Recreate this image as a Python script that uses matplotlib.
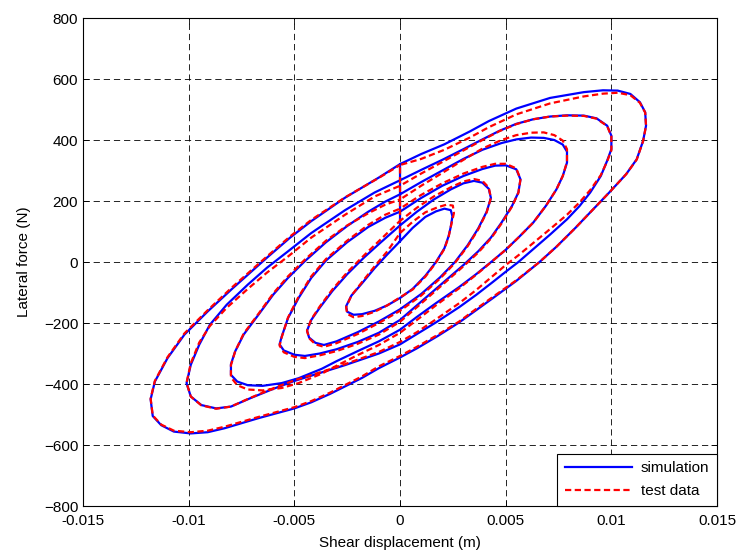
import numpy as np
import matplotlib
matplotlib.use("Agg")
import matplotlib.pyplot as plt
from matplotlib.ticker import FuncFormatter

# loops: displacement (m), force (N)
# every loop starts and ends on its upper branch at x = 0
sim1_x = [0, 0.0006, 0.0012, 0.0017, 0.0021, 0.0024, 0.00248, 0.0024, 0.0023, 0.0021, 0.0017, 0.0012, 0.0006, 0, -0.0006, -0.0012, -0.0018, -0.0022, -0.0025, -0.00255, -0.0023, -0.0018, -0.0012, -0.0006, 0]
sim1_f = [68, 112, 148, 166, 175, 170, 150, 115, 85, 45, 0, -45, -88, -118, -142, -160, -171, -173, -163, -145, -110, -70, -20, 25, 68]
sim2_x = [0, 0.0008, 0.0016, 0.0024, 0.0030, 0.0035, 0.0039, 0.0042, 0.0043, 0.0041, 0.0037, 0.0032, 0.0026, 0.0019, 0.0010, 0, -0.0010, -0.0020, -0.0030, -0.0036, -0.0040, -0.0043, -0.0044, -0.0042, -0.0038, -0.0032, -0.0025, -0.0017, -0.0009, 0]
sim2_f = [120, 165, 205, 238, 258, 266, 260, 240, 210, 165, 110, 55, 0, -50, -105, -155, -195, -230, -260, -272, -265, -248, -225, -190, -150, -95, -40, 15, 65, 120]
sim3_x = [0, 0.0010, 0.0020, 0.0030, 0.0039, 0.0045, 0.0050, 0.0055, 0.0057, 0.0056, 0.0053, 0.0048, 0.0043, 0.0037, 0.0030, 0.0020, 0.0010, 0, -0.0010, -0.0020, -0.0030, -0.0038, -0.0045, -0.0050, -0.0055, -0.0057, -0.0056, -0.0053, -0.0048, -0.0042, -0.0035, -0.0025, -0.0015, -0.0007, 0]
sim3_f = [165, 210, 250, 282, 305, 316, 317, 304, 271, 228, 184, 129, 80, 35, -10, -70, -130, -190, -232, -262, -286, -300, -308, -304, -290, -270, -245, -184, -118, -52, 5, 65, 115, 145, 165]
sim4_x = [0, 0.0010, 0.0020, 0.0030, 0.0039, 0.0048, 0.0055, 0.0062, 0.0068, 0.0073, 0.0077, 0.0079, 0.0079, 0.0077, 0.0074, 0.0069, 0.0063, 0.0056, 0.0050, 0.0044, 0.0036, 0.0028, 0.0017, 0.0008, 0, -0.0010, -0.0020, -0.0030, -0.0037, -0.0048, -0.0056, -0.0065, -0.0072, -0.0077, -0.0080, -0.0080, -0.0078, -0.0074, -0.0067, -0.0060, -0.0053, -0.0045, -0.0035, -0.0025, -0.0015, -0.0007, 0]
sim4_f = [222, 262, 300, 338, 368, 390, 402, 408, 407, 400, 385, 362, 326, 282, 238, 184, 129, 80, 40, 5, -40, -82, -135, -180, -222, -260, -292, -325, -350, -381, -397, -406, -404, -392, -370, -335, -293, -238, -173, -107, -52, 3, 65, 118, 165, 198, 222]
sim5_x = [0, 0.0010, 0.0020, 0.0030, 0.0039, 0.0047, 0.0055, 0.0063, 0.0071, 0.0079, 0.0087, 0.0093, 0.0098, 0.0100, 0.0100, 0.0098, 0.0095, 0.0090, 0.0085, 0.0079, 0.0071, 0.0063, 0.0056, 0.0050, 0.0044, 0.0036, 0.0028, 0.0017, 0.0008, 0, -0.0010, -0.0026, -0.0037, -0.0050, -0.0060, -0.0071, -0.0080, -0.0087, -0.0094, -0.0099, -0.0101, -0.0099, -0.0095, -0.0090, -0.0082, -0.0072, -0.0063, -0.0053, -0.0042, -0.0026, -0.0012, 0]
sim5_f = [268, 302, 335, 370, 402, 430, 453, 468, 477, 481, 480, 471, 447, 414, 370, 332, 282, 228, 184, 140, 90, 42, 0, -32, -65, -108, -148, -198, -236, -270, -300, -338, -362, -390, -416, -447, -474, -480, -469, -441, -397, -337, -271, -206, -140, -74, -19, 35, 95, 170, 228, 268]
sim6_x = [0, 0.0010, 0.0021, 0.0033, 0.0042, 0.0055, 0.0071, 0.0087, 0.0096, 0.0103, 0.0109, 0.01135, 0.0116, 0.01164, 0.0115, 0.0112, 0.0107, 0.0099, 0.0091, 0.0083, 0.0074, 0.0066, 0.0055, 0.0044, 0.0036, 0.0028, 0.0018, 0.0008, 0, -0.0010, -0.0018, -0.0033, -0.0042, -0.0050, -0.0067, -0.0083, -0.0091, -0.0099, -0.0107, -0.0113, -0.0117, -0.0118, -0.0116, -0.0110, -0.0102, -0.0091, -0.0079, -0.0063, -0.0052, -0.0042, -0.0026, -0.0010, 0]
sim6_f = [321, 354, 386, 428, 462, 503, 538, 557, 563, 562, 551, 524, 491, 447, 397, 337, 288, 228, 170, 112, 50, 0, -62, -118, -158, -198, -242, -283, -313, -348, -380, -432, -460, -480, -512, -545, -558, -562, -556, -535, -505, -450, -392, -315, -238, -162, -85, 14, 80, 134, 211, 277, 321]

test1_x = [0, 0.0006, 0.0012, 0.0018, 0.0022, 0.0025, 0.00255, 0.0024, 0.0023, 0.0021, 0.0017, 0.0012, 0.0006, 0, -0.0006, -0.0012, -0.0018, -0.0022, -0.0025, -0.00255, -0.0023, -0.0018, -0.0012, -0.0006, 0]
test1_f = [95, 132, 163, 180, 188, 185, 160, 115, 83, 43, -2, -48, -90, -116, -142, -163, -177, -181, -170, -148, -110, -66, -14, 35, 95]
test2_x = sim2_x
test2_f = [135, 178, 215, 245, 264, 272, 266, 244, 210, 163, 107, 52, -3, -54, -110, -160, -200, -236, -266, -278, -270, -250, -225, -188, -146, -90, -34, 22, 75, 135]
test3_x = sim3_x
test3_f = [175, 220, 258, 290, 312, 322, 322, 307, 272, 227, 182, 126, 77, 31, -14, -75, -136, -196, -238, -268, -292, -306, -315, -311, -296, -274, -247, -182, -114, -47, 10, 70, 122, 155, 175]
test4_x = sim4_x
test4_f = [205, 250, 292, 335, 372, 400, 416, 424, 425, 416, 398, 370, 328, 282, 238, 184, 129, 80, 40, 5, -42, -86, -142, -190, -232, -272, -305, -340, -366, -397, -413, -421, -418, -404, -378, -338, -293, -235, -170, -103, -47, 8, 70, 120, 160, 188, 205]
test5_x = sim5_x
test5_f = [250, 290, 328, 366, 400, 429, 452, 468, 477, 480, 479, 470, 446, 412, 366, 330, 285, 236, 196, 155, 108, 62, 22, -10, -45, -92, -135, -188, -230, -262, -295, -335, -360, -388, -414, -446, -474, -481, -470, -441, -396, -332, -264, -210, -150, -88, -35, 18, 80, 155, 215, 250]
test6_x = sim6_x
test6_f = [318, 338, 368, 408, 442, 484, 520, 543, 552, 555, 547, 522, 490, 446, 396, 336, 288, 228, 170, 112, 50, 0, -60, -114, -154, -195, -238, -278, -308, -342, -375, -428, -456, -476, -508, -540, -553, -558, -553, -533, -503, -447, -390, -312, -234, -158, -80, 18, 84, 138, 212, 276, 318]

sim_x = [sim1_x, sim2_x, sim3_x, sim4_x, sim5_x, sim6_x]
sim_f = [sim1_f, sim2_f, sim3_f, sim4_f, sim5_f, sim6_f]
test_x = [test1_x, test2_x, test3_x, test4_x, test5_x, test6_x]
test_f = [test1_f, test2_f, test3_f, test4_f, test5_f, test6_f]

plt.rcParams['font.family'] = ['Liberation Sans', 'DejaVu Sans']
plt.rcParams['font.size'] = 11
plt.rcParams['lines.scale_dashes'] = False

# loops joined one after another, like one recorded signal
xs = np.concatenate([np.asarray(a) for a in sim_x])
fs = np.concatenate([np.asarray(a) for a in sim_f])
xt = np.concatenate([np.asarray(a) for a in test_x])
ft = np.concatenate([np.asarray(a) for a in test_f])

fig = plt.figure(figsize=(7.39, 5.56), dpi=100)
ax = fig.add_axes([0.1123, 0.0899, 0.858, 0.8777])

ax.plot(xs, fs, color='#0000ff', lw=1.6, label='simulation')
ax.plot(xt, ft, color='#ff0000', lw=1.6, ls=(0, (4.5, 2.5)), label='test data')

ax.set_xlim(-0.015, 0.015)
ax.set_ylim(-800, 800)
ax.set_xticks(np.arange(-0.015, 0.0151, 0.005))
ax.set_yticks(np.arange(-800, 801, 200))
ax.xaxis.set_major_formatter(FuncFormatter(lambda v, p: '%g' % round(v, 4)))
ax.grid(True, color='k', lw=0.6, ls=(0, (4.5, 2.8)))
ax.tick_params(direction='in', top=True, right=True, length=4, width=0.6, labelsize=11)
ax.tick_params(axis='x', pad=5.5)
for s in ax.spines.values():
    s.set_linewidth(0.8)

ax.set_xlabel('Shear displacement (m)', labelpad=6)
ax.set_ylabel('Lateral force (N)', labelpad=9)

leg = ax.legend(loc='lower right', fancybox=False, edgecolor='k', framealpha=1,
                borderaxespad=0, handlelength=4.4, handletextpad=0.6,
                borderpad=0.5, labelspacing=0.6, fontsize=11)
leg.get_frame().set_linewidth(0.8)

fig.savefig('out.png', dpi=100)
